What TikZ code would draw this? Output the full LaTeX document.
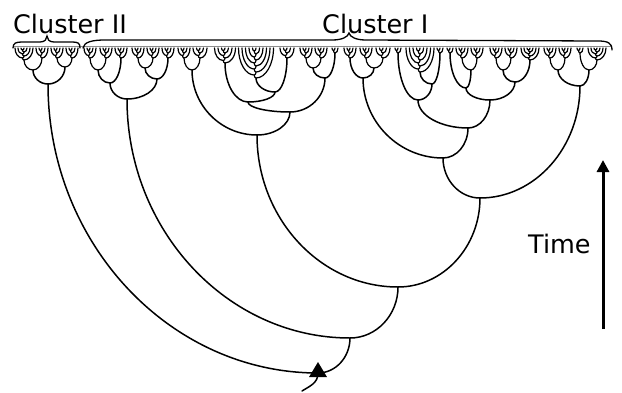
\documentclass[tikz,border=0pt]{standalone}
\usepackage{fontspec}
\setmainfont{DejaVu Sans}
\usetikzlibrary{calc,arrows.meta}
\tikzset{
  branch/.style={line width=1.5pt, line cap=round},
  twig/.style={line width=1.2pt, line cap=round},
  bracket/.style={line width=1.3pt, line cap=round},
  baseline/.style={line width=0.8pt, black!45},
  label/.style={font=\fontsize{25.5}{30}\selectfont, inner sep=0pt},
}
% U-shaped join of two subtrees: from #2 down to the join point #3, then up to #4
\newcommand\joinU[4][branch]{%
  \draw[#1] let \p1=(#2),\p2=(#3),\p3=(#4) in
    (\p1) .. controls (\x1,{\y1+0.55*(\y2-\y1)}) and ({\x2-0.55*(\x2-\x1)},\y2) .. (\p2)
          .. controls ({\x2+0.55*(\x3-\x2)},\y2) and (\x3,{\y3+0.55*(\y2-\y3)}) .. (\p3);}
% the same join, given by plain numbers
\newcommand\twigU[6]{%
  \draw[twig] (#1,#2) .. controls (#1,{#2+0.55*(#4-#2)}) and ({#3-0.55*(#3-#1)},#4) .. (#3,#4)
     .. controls ({#3+0.55*(#5-#3)},#4) and (#5,{#6+0.55*(#4-#6)}) .. (#5,#6);}
% a small group: leaves added alternately left and right of a centre
% #1 name of the last join, #2 centre x, #3 leaf spacing, #4 joins, #5 depth step
\newcommand\twigfan[5]{%
  \xdef\fpx{#2}\xdef\fpy{48}%
  \foreach \k in {1,...,#4}{%
    \pgfmathsetmacro\lx{#2+(1-2*mod(\k,2))*ceil(\k/2)*(#3)}%
    \pgfmathsetmacro\nx{#2-mod(\k,2)*(#3)/2}%
    \pgfmathsetmacro\ny{48+\k*(#5)}%
    \twigU{\fpx}{\fpy}{\nx}{\ny}{\lx}{48}%
    \xdef\fpx{\nx}\xdef\fpy{\ny}%
  }%
  \coordinate (#1) at (\fpx,\fpy);}

\begin{document}
\begin{tikzpicture}[x=1pt,y=-1pt]
\useasboundingbox (0,0) rectangle (622,392);

% ---------- leaf line and braces ----------
\draw[baseline] (13,46.5) -- (612,46.5);
\draw[bracket] (13,48) .. controls (13,43) and (16,42) .. (22,42) -- (40,42)
  .. controls (45,42) and (47,39) .. (47,36) .. controls (47,39) and (49,42) .. (54,42)
  -- (72,42) .. controls (78,42) and (80,43) .. (80,48);
\draw[bracket] (83,48) .. controls (84,42) and (92,40) .. (105,40) -- (332,40)
  .. controls (342,40) and (348,37) .. (349,33) .. controls (350,37) and (356,40) .. (366,40)
  -- (598,41) .. controls (608,41) and (612,43) .. (612,50);
\node[label, anchor=base west] (c2lab) at (13,33) {Cluster II};
\node[label, anchor=base west] (c1lab) at (322,33) {Cluster I};

% ---------- small groups along the top ----------
\twigfan{a1}{24}{3}{6}{2}
\twigfan{a2}{42}{3}{4}{2.5}
\twigfan{b1}{57}{3}{4}{2.5}
\twigfan{b2}{72}{3}{4}{2.5}
\twigfan{c1}{90}{3}{4}{2.5}
\twigfan{c2}{106}{3}{4}{2.5}
\twigfan{c3}{121}{3}{4}{2.5}
\twigfan{e1}{138}{3}{4}{2.5}
\twigfan{e2}{153}{3}{4}{2.5}
\twigfan{e3}{168}{3}{4}{2.5}
\twigfan{f1}{184}{3}{4}{2.5}
\twigfan{f2}{200}{3.5}{4}{2.5}
\twigfan{f3}{225}{3.5}{6}{2.5}
\twigfan{f4}{256}{3.5}{10}{3}
\twigfan{f5}{287}{3.5}{4}{2.5}
\twigfan{h1}{306}{3}{4}{2.5}
\twigfan{h2}{321}{3}{4}{2.5}
\twigfan{h3}{335}{3}{2}{2.5}
\twigfan{i1}{350}{3}{4}{2.5}
\twigfan{i2}{366}{3}{4}{2.5}
\twigfan{i3}{383}{3.5}{4}{2.5}
\twigfan{q0}{398}{3}{2}{2.5}
\twigfan{q1}{420}{3.5}{8}{3}
\twigfan{q2}{440}{3}{2}{2.5}
\twigfan{r0}{450}{3}{2}{2.5}
\twigfan{r1}{462}{3}{4}{2.5}
\twigfan{r2}{477}{3}{4}{2.5}
\twigfan{r3}{496}{3}{4}{2.5}
\twigfan{r4}{511}{3}{4}{2.5}
\twigfan{r5}{530}{3}{6}{2}
\twigfan{s1}{550}{3}{4}{2.5}
\twigfan{s2}{565}{3}{4}{2.5}
\twigfan{s3}{580}{3}{2}{2.5}
\twigfan{s4}{597}{3}{6}{2}

% ---------- join points ----------
\coordinate (A)  at (33,70);
\coordinate (B)  at (65,67);
\coordinate (C2) at (48,84);
\coordinate (C)  at (98,70);
\coordinate (D)  at (110,83);
\coordinate (E1) at (145,68);
\coordinate (E)  at (157,79);
\coordinate (Y)  at (127,99);
\coordinate (ZL) at (192,70);
\coordinate (G1) at (275,92);
\coordinate (G2) at (248,102);
\coordinate (H1) at (313,68);
\coordinate (H)  at (325,78);
\coordinate (G3) at (290,112);
\coordinate (Z)  at (257,135);
\coordinate (I1) at (374,68);
\coordinate (I)  at (363,78);
\coordinate (Q1) at (432,84);
\coordinate (Q)  at (418,100);
\coordinate (R1) at (471,70);
\coordinate (Ra) at (466,88);
\coordinate (R2) at (503,70);
\coordinate (R3) at (515,82);
\coordinate (R)  at (490,100);
\coordinate (N)  at (468,128);
\coordinate (V)  at (443,158);
\coordinate (S1) at (558,70);
\coordinate (S2) at (589,70);
\coordinate (RC) at (580,86);
\coordinate (W)  at (480,198);
\coordinate (X2) at (398,287);
\coordinate (X1) at (350,338);
\coordinate (root) at (318,373);
\coordinate (stemend) at (302,391);

% ---------- joins, smallest first ----------
\joinU[twig]{a1}{A}{a2}
\joinU[twig]{b1}{B}{b2}
\joinU{A}{C2}{B}
\joinU[twig]{c1}{C}{c2}
\joinU{C}{D}{c3}
\joinU[twig]{e1}{E1}{e2}
\joinU{E1}{E}{e3}
\joinU{D}{Y}{E}
\joinU[twig]{f1}{ZL}{f2}
\joinU{f4}{G1}{f5}
\joinU{f3}{G2}{G1}
\joinU[twig]{h1}{H1}{h2}
\joinU{H1}{H}{h3}
\joinU{G2}{G3}{H}
\joinU{ZL}{Z}{G3}
\joinU[twig]{i2}{I1}{i3}
\joinU{i1}{I}{I1}
\joinU{q1}{Q1}{q2}
\joinU{q0}{Q}{Q1}
\joinU[twig]{r1}{R1}{r2}
\joinU{r0}{Ra}{R1}
\joinU[twig]{r3}{R2}{r4}
\joinU{R2}{R3}{r5}
\joinU{Ra}{R}{R3}
\joinU{Q}{N}{R}
\joinU{I}{V}{N}
\joinU[twig]{s1}{S1}{s2}
\joinU[twig]{s3}{S2}{s4}
\joinU{S1}{RC}{S2}
\joinU{V}{W}{RC}
\joinU{Z}{X2}{W}
\joinU{Y}{X1}{X2}
\joinU{C2}{root}{X1}

% root stem and marker
\draw[branch] (root) .. controls +(0,10) and +(8,-5) .. (stemend);
\fill ($(root)+(-9,4)$) -- ($(root)+(9,4)$) -- ($(root)+(0,-11)$) -- cycle;

% ---------- time axis ----------
\coordinate (tfoot) at (603,329);
\coordinate (thead) at (603,160);
\draw[line width=3pt, -{Triangle[length=12pt,width=12pt]}] (tfoot) -- (thead);
\node[label, anchor=base west] (timelab) at (528,253) {Time};
\end{tikzpicture}
\end{document}
